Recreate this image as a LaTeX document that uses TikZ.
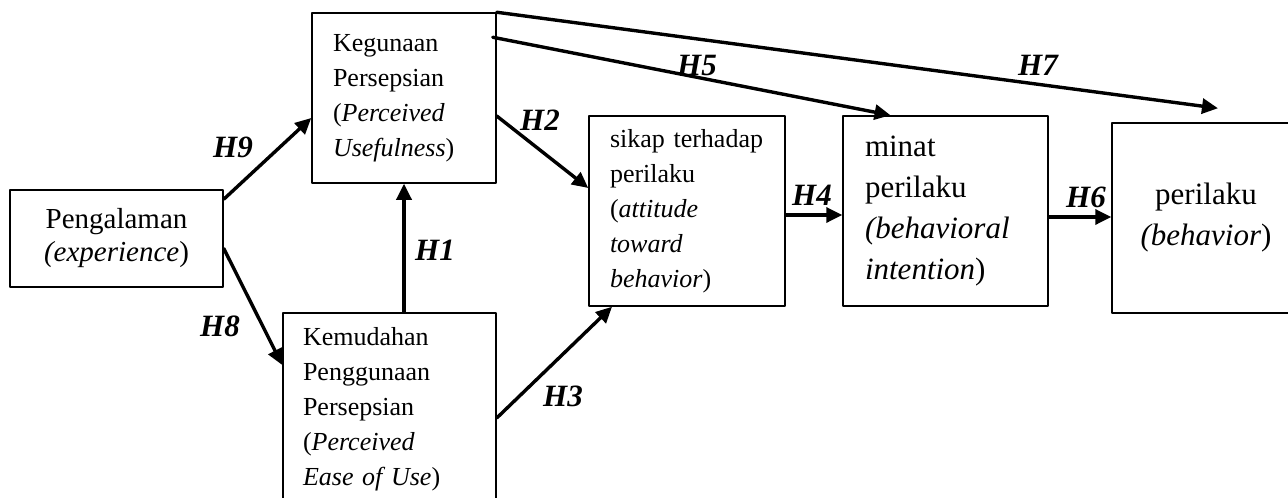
\documentclass[tikz,border=0pt]{standalone}
\usepackage{fontspec}
\setmainfont{Liberation Serif}
\usetikzlibrary{arrows.meta,calc}
\tikzset{
  box/.style={draw, line width=1.5pt, inner ysep=0pt, align=left},
  small/.style={font=\fontsize{26}{35}\selectfont},
  big/.style={font=\fontsize{31}{41}\selectfont},
  hlab/.style={font=\fontsize{31}{31}\selectfont\bfseries\itshape, inner sep=0pt}
}
\begin{document}
\begin{tikzpicture}[line join=round, line cap=round, >={Triangle[length=16pt,width=15pt]}, x=1pt, y=-1pt]
\useasboundingbox (0,0) rectangle (1288,498);
\clip (0,0) rectangle (1288,498);
% boxes
\node[box, align=center, inner xsep=10pt, text width=193pt, minimum height=97pt, font=\fontsize{29}{33}\selectfont] (peng) at (116.5,238.5) {Pengalaman\\\textit{(experience})};
\node[box, small, inner xsep=21pt, text width=142pt, minimum height=170pt] (guna) at (404,98) {Kegunaan\\Persepsian\\(\textit{Perceived}\\\textit{Usefulness})};
\node[box, small, inner xsep=20pt, text width=173pt, minimum height=192pt] (mudah) at (389.5,409) {Kemudahan\\Penggunaan\\Persepsian\\(\textit{Perceived}\\\textit{Ease of Use})};
\node[box, small, inner xsep=21pt, text width=154pt, minimum height=190pt] (sikap) at (687,211) {sikap terhadap\\perilaku\\(\textit{attitude}\\\textit{toward}\\\textit{behavior})};
\node[box, big, inner xsep=22pt, text width=161pt, minimum height=190pt] (minat) at (945.5,211) {minat\\perilaku\\\textit{(behavioral}\\\textit{intention})};
\node[box, big, align=center, inner xsep=10pt, text width=168pt, minimum height=190pt] (laku) at (1206,218) {perilaku\\\textit{(behavior})};
% paths
\begin{scope}[line width=3.4pt]
\draw[->] ($(peng.north east)+(0,10)$) -- ($(guna.west)+(0,20)$);
\draw[->] ($(peng.east)+(0,10)$) -- ($(mudah.west)+(0,-44)$);
\draw[->] (guna.south |- mudah.north) -- (guna.south);
\draw[->] ($(guna.east)+(0,18)$) -- ($(sikap.west)+(0,-23)$);
\draw[->] ($(mudah.east)+(0,9)$) -- ($(sikap.south)+(-75,0)$);
\draw[->] ($(sikap.east)+(0,4)$) -- ($(minat.west)+(0,4)$);
\draw[->] ($(guna.north east)+(-4,25)$) -- ($(minat.north)+(-55,0)$);
\draw[->] ($(minat.east)+(0,6)$) -- ($(laku.west)+(0,-1)$);
\draw[->] (guna.north east) -- ($(laku.north)+(12,-14)$);
\end{scope}
\foreach \n/\x/\y in {1/435/250,2/540/120,3/563/396,4/812/195,5/697/65,6/1086/197,7/1038/65,8/220/326,9/233/147}{\node[hlab] (h\n) at (\x,\y) {H\n};}
\end{tikzpicture}
\end{document}
